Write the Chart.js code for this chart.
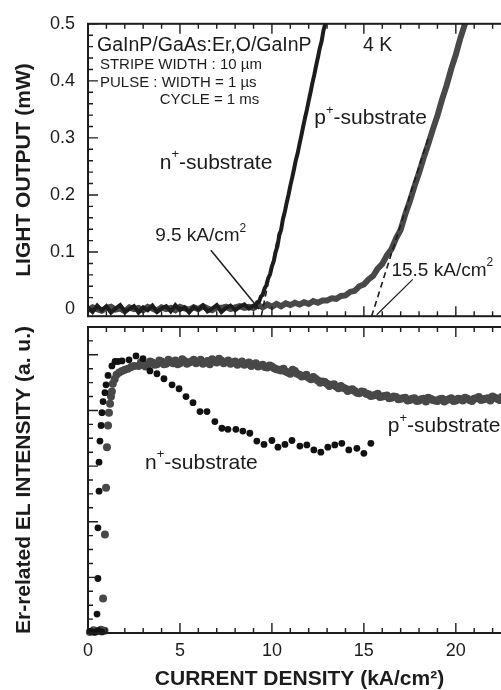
<!DOCTYPE html>
<html>
<head>
<meta charset="utf-8">
<title>Er-doped GaAs laser: light output and Er EL</title>
<script src="https://cdn.jsdelivr.net/npm/chart.js@4.4.1/dist/chart.umd.min.js"></script>
<style>
    html, body { margin: 0; padding: 0; background: #fff; overflow: hidden; }
    #wrap { position: relative; width: 501px; height: 690px; overflow: hidden; }
    canvas { position: absolute; left: 0; }
    #lightChart { top: 0; }
    #elChart { top: 300px; }
</style>
</head>
<body>
<div id="wrap">
    <canvas id="lightChart" width="530" height="340"></canvas>
    <canvas id="elChart" width="530" height="400"></canvas>
</div>
<script>
// ---- data: current density (kA/cm2) vs light output (mW), 4 K ----
const jN = [0,0.25,0.5,0.75,1,1.25,1.5,1.75,2,2.25,2.5,2.75,3,3.25,3.5,3.75,4,4.25,4.5,4.75,5,5.25,5.5,5.75,6,6.25,6.5,6.75,7,7.25,7.5,7.75,8,8.25,8.5,8.75,9,
    9.1,9.2,9.3,9.4,9.5,9.6,9.7,9.8,9.9,10,10.1,10.2,10.3,10.4,10.5,10.6,10.7,10.8,10.9,11,11.1,11.2,11.3,11.4,11.5,11.6,11.7,11.8,11.9,12,12.1,12.2,12.3,12.4,12.5,12.6,12.7,12.8,12.9,13];
const lightN = [0.003,-0.005,0.006,-0.002,0.005,-0.006,0.001,0.007,-0.004,0.000,0.005,-0.006,0.003,-0.002,0.006,-0.005,0.001,0.005,-0.004,0.007,-0.002,0.003,-0.006,0.004,-0.001,0.006,-0.004,0.001,0.007,-0.005,0.002,0.006,-0.002,0.004,0.008,0.001,0.006,
    0.004,0.012,0.013,0.022,0.025,0.036,0.042,0.054,0.061,0.075,0.084,0.100,0.110,0.129,0.139,0.158,0.170,0.186,0.200,0.216,0.230,0.245,0.261,0.273,0.289,0.304,0.320,0.335,0.349,0.365,0.380,0.396,0.410,0.426,0.441,0.457,0.469,0.488,0.500,0.517];

const jP = [0,0.25,0.5,0.75,1,1.25,1.5,1.75,2,2.25,2.5,2.75,3,3.25,3.5,3.75,4,4.25,4.5,4.75,5,5.25,5.5,5.75,6,6.25,6.5,6.75,7,7.25,7.5,7.75,8,8.25,8.5,8.75,
    9,9.25,9.5,9.75,10,10.25,10.5,10.75,11,11.25,11.5,11.75,12,12.25,12.5,12.75,13,13.25,13.5,13.75,
    14,14.25,14.5,14.75,15,15.25,15.5,15.75,16,16.25,16.5,16.75,17,17.25,17.5,17.75,18,18.25,18.5,18.75,19,19.25,19.5,19.75,20,20.25,20.5,20.75];
const lightP = [-0.002,0.003,0.000,-0.003,0.002,0.004,-0.001,0.001,-0.004,0.003,0.000,0.002,-0.002,0.004,0.001,-0.003,0.003,0.000,0.002,-0.002,0.004,0.001,-0.001,0.003,0.000,0.005,0.001,-0.002,0.003,0.002,0.004,0.000,0.003,0.005,0.002,0.004,
    0.002,0.007,0.003,0.008,0.004,0.009,0.005,0.010,0.007,0.011,0.008,0.012,0.009,0.014,0.011,0.015,0.015,0.019,0.018,0.023,
    0.024,0.030,0.032,0.040,0.043,0.052,0.058,0.071,0.079,0.094,0.105,0.124,0.139,0.166,0.189,0.215,0.239,0.265,0.289,0.315,0.339,0.367,0.392,0.421,0.446,0.475,0.500,0.527];

// threshold extrapolations and label pointers
const dashNx = [9.42, 10.4],   dashNy = [-0.0125, 0.139];
const dashPx = [15.42, 18.5],  dashPy = [-0.0125, 0.30];
const ptrNx = [6.68, 9.3],     ptrNy = [0.103, 0.0];
const ptrPx = [17.66, 15.7],   ptrPy = [0.052, -0.010];

// ---- data: Er-related EL intensity (a.u.) ----
const jElN = [0.15,0.35,0.55,0.75,0.49,0.54,0.54,0.6,0.6,0.65,0.71,0.76,0.82,0.92,0.98,1.09,1.3,1.47,1.63,1.85,2.23,2.61,2.99,3.37,3.75,4.13,4.57,4.95,5.33,5.71,
    6.09,6.47,6.9,7.28,7.61,8.04,8.42,8.8,9.18,9.57,10.0,10.33,10.71,11.09,11.52,11.9,12.28,12.66,13.04,13.42,13.8,14.18,14.62,15.0,15.38];
const elN = [0.03,0.01,0.04,0.02,0.34,0.98,1.89,2.55,3.07,3.45,3.73,3.96,4.16,4.32,4.46,4.63,4.8,4.88,4.88,4.89,4.91,4.98,4.93,4.71,4.66,4.57,4.46,4.39,4.25,4.14,
    3.98,3.98,3.8,3.68,3.66,3.66,3.63,3.59,3.45,3.39,3.46,3.34,3.39,3.46,3.36,3.38,3.29,3.25,3.34,3.38,3.41,3.29,3.32,3.23,3.41];

const jElP = [0.1,0.3,0.5,0.7,0.9,0.82,0.92,0.98,1.03,1.09,1.14,1.2,1.25,1.3,1.35,1.45,1.55,1.7,1.85,2.0,2.17,2.35,2.5,
    2.75,3,3.25,3.5,3.75,4,4.25,4.5,4.75,5,5.25,5.5,5.75,6,6.25,6.5,6.75,7,7.25,7.5,7.75,8,8.25,8.5,8.75,9,9.25,9.5,9.75,10,
    10.25,10.5,10.75,11,11.25,11.5,11.75,12,12.25,12.5,12.75,13,13.25,13.5,13.75,14,14.25,14.5,14.75,15,15.25,15.5,15.75,16,
    16.25,16.5,16.75,17,17.25,17.5,17.75,18,18.25,18.5,18.75,19,19.25,19.5,19.75,20,20.25,20.5,20.75,21,21.25,21.5,21.75,22,22.25,22.5,22.75,
    2.875,3.125,3.375,3.625,3.875,4.125,4.375,4.625,4.875,5.125,5.375,5.625,5.875,6.125,6.375,6.625,6.875,7.125,7.375,7.625,7.875,8.125,8.375,8.625,8.875,
    9.125,9.375,9.625,9.875,10.125,10.375,10.625,10.875,11.125,11.375,11.625,11.875,12.125,12.375,12.625,12.875,13.125,13.375,13.625,13.875,
    14.125,14.375,14.625,14.875,15.125,15.375,15.625,15.875,16.125,16.375,16.625,16.875,17.125,17.375,17.625,17.875,18.125,18.375,18.625,18.875,
    19.125,19.375,19.625,19.875,20.125,20.375,20.625,20.875,21.125,21.375,21.625,21.875,22.125,22.375,22.625];
const elP = [0.02,0.05,0.03,0.06,0.04,0.62,1.77,2.61,3.34,3.73,3.96,4.12,4.25,4.34,4.48,4.56,4.64,4.68,4.71,4.73,4.75,4.78,4.80,
    4.80,4.84,4.81,4.86,4.83,4.88,4.84,4.87,4.90,4.85,4.89,4.86,4.91,4.87,4.84,4.89,4.92,4.86,4.90,4.87,4.84,4.88,4.85,4.82,4.86,4.83,4.79,4.82,4.77,4.79,
    4.74,4.72,4.70,4.66,4.71,4.64,4.62,4.59,4.60,4.54,4.52,4.48,4.46,4.43,4.44,4.39,4.37,4.35,4.31,4.33,4.29,4.27,4.30,4.25,
    4.27,4.23,4.24,4.21,4.23,4.19,4.22,4.18,4.21,4.23,4.19,4.17,4.21,4.19,4.22,4.18,4.20,4.23,4.19,4.21,4.24,4.20,4.22,4.25,4.21,4.24,4.22,
    4.86,4.79,4.88,4.82,4.90,4.83,4.91,4.85,4.83,4.92,4.84,4.88,4.85,4.91,4.86,4.83,4.89,4.93,4.85,4.90,4.86,4.82,4.88,4.84,4.80,
    4.85,4.81,4.78,4.81,4.76,4.73,4.75,4.68,4.73,4.66,4.61,4.64,4.56,4.57,4.50,4.51,4.44,4.47,4.40,4.41,
    4.35,4.38,4.32,4.34,4.30,4.26,4.28,4.24,4.26,4.22,4.25,4.20,4.22,4.18,4.21,4.17,4.20,4.16,4.21,4.18,
    4.20,4.16,4.20,4.17,4.21,4.18,4.21,4.17,4.22,4.19,4.21,4.18,4.23,4.19,4.22];

// axis ticks
const xTickLabels = [0, 5, 10, 15, 20];
const lightTicks = [0, 0.1, 0.2, 0.3, 0.4, 0.5];

const FONT = 'Arial, "Liberation Sans", sans-serif';
const INK = '#1c1c1c';
const GREY = '#484848';

const pts = (xs, ys) => xs.map((x, i) => ({ x: x, y: ys[i] }));

// box frame with inward ticks on all four sides
const framePlugin = {
    id: 'frame',
    afterDatasetsDraw(chart, args, opts) {
        const { ctx, chartArea: a, scales: { x, y } } = chart;
        ctx.save();
        ctx.strokeStyle = INK;
        ctx.lineWidth = 1.4;
        ctx.beginPath();
        for (let v = 0; v <= x.max; v++) {
            const px = x.getPixelForValue(v);
            const len = v % 5 === 0 ? 10 : 5;
            ctx.moveTo(px, a.top); ctx.lineTo(px, a.top + len);
            ctx.moveTo(px, a.bottom); ctx.lineTo(px, a.bottom - len);
        }
        for (let i = 0; i <= opts.count; i++) {
            const py = y.getPixelForValue(i * opts.step);
            const len = i % opts.perMajor === 0 ? 10 : 5;
            ctx.moveTo(a.left, py); ctx.lineTo(a.left + len, py);
            ctx.moveTo(a.right, py); ctx.lineTo(a.right - len, py);
        }
        ctx.stroke();
        ctx.lineWidth = 2;
        ctx.strokeRect(a.left, a.top, a.width, a.height);
        ctx.restore();
    }
};

// text notes placed in data coordinates; '^' marks a superscript part
const notePlugin = {
    id: 'notes',
    afterDraw(chart, args, opts) {
        const { ctx, scales: { x, y } } = chart;
        ctx.save();
        ctx.fillStyle = INK;
        ctx.textBaseline = 'middle';
        ctx.textAlign = 'left';
        opts.items.forEach(n => {
            let cx = x.getPixelForValue(n.x);
            const cy = y.getPixelForValue(n.y);
            n.parts.forEach(p => {
                const sup = p.startsWith('^');
                const t = sup ? p.slice(1) : p;
                ctx.font = (sup ? Math.round(n.size * 0.62) : n.size) + 'px ' + FONT;
                ctx.fillText(t, cx, sup ? cy - n.size * 0.4 : cy);
                cx += ctx.measureText(t).width;
            });
        });
        ctx.restore();
    }
};

Chart.defaults.font.family = FONT;
Chart.defaults.color = INK;

new Chart(document.getElementById('lightChart'), {
    type: 'scatter',
    data: {
        datasets: [
            { data: pts(jN, lightN), showLine: true, borderColor: INK, borderWidth: 4, pointRadius: 0 },
            { data: pts(dashNx, dashNy), showLine: true, borderColor: INK, borderWidth: 1.6, borderDash: [6, 4], pointRadius: 0 },
            { data: pts(dashPx, dashPy), showLine: true, borderColor: INK, borderWidth: 1.6, borderDash: [6, 4], pointRadius: 0 },
            { data: pts(ptrNx, ptrNy), showLine: true, borderColor: INK, borderWidth: 1.5, pointRadius: 0 },
            { data: pts(ptrPx, ptrPy), showLine: true, borderColor: INK, borderWidth: 1.2, pointRadius: 0 },
            { data: pts(jP, lightP), showLine: true, borderColor: GREY, borderWidth: 6, pointRadius: 0 }
        ]
    },
    options: {
        responsive: false,
        animation: false,
        layout: { padding: { top: 19, right: 19, bottom: 13, left: 0 } },
        plugins: {
            legend: { display: false },
            tooltip: { enabled: false },
            frame: { step: 0.02, perMajor: 5, count: 25 },
            notes: {
                items: [
                    { x: 0.49, y: 0.461, size: 19.5, parts: ['GaInP/GaAs:Er,O/GaInP'] },
                    { x: 0.65, y: 0.428, size: 15, parts: ['STRIPE WIDTH : 10 \u00b5m'] },
                    { x: 0.65, y: 0.396, size: 15, parts: ['PULSE : WIDTH = 1 \u00b5s'] },
                    { x: 3.9, y: 0.366, size: 15, parts: ['CYCLE = 1 ms'] },
                    { x: 14.95, y: 0.461, size: 19.5, parts: ['4 K'] },
                    { x: 12.3, y: 0.334, size: 21, parts: ['p', '^+', '-substrate'] },
                    { x: 3.9, y: 0.256, size: 21, parts: ['n', '^+', '-substrate'] },
                    { x: 3.65, y: 0.128, size: 19, parts: ['9.5 kA/cm', '^2'] },
                    { x: 16.5, y: 0.068, size: 19, parts: ['15.5 kA/cm', '^2'] }
                ]
            }
        },
        scales: {
            x: { type: 'linear', min: 0, max: 23, display: false },
            y: {
                min: -0.0125, max: 0.5,
                afterFit: s => { s.width = 88; },
                afterBuildTicks: s => { s.ticks = lightTicks.map(v => ({ value: v })); },
                grid: { display: false, drawTicks: false },
                border: { display: false },
                ticks: { padding: 13, font: { size: 18 }, color: INK, callback: v => v === 0 ? '0' : v.toFixed(1) },
                title: { display: true, text: 'LIGHT OUTPUT (mW)', font: { size: 21, weight: 'bold' }, color: INK, padding: { top: 12, bottom: 0 } }
            }
        }
    },
    plugins: [framePlugin, notePlugin]
});

new Chart(document.getElementById('elChart'), {
    type: 'scatter',
    data: {
        datasets: [
            { data: pts(jElN, elN), backgroundColor: '#111', borderWidth: 0, pointRadius: 3.4, clip: 8 },
            { data: pts(jElP, elP), backgroundColor: GREY, borderWidth: 0, pointRadius: 4, clip: 8 }
        ]
    },
    options: {
        responsive: false,
        animation: false,
        layout: { padding: { top: 27, right: 19, bottom: 0, left: 0 } },
        plugins: {
            legend: { display: false },
            tooltip: { enabled: false },
            frame: { step: 0.25, perMajor: 4, count: 22 },
            notes: {
                items: [
                    { x: 16.3, y: 3.71, size: 21, parts: ['p', '^+', '-substrate'] },
                    { x: 3.1, y: 3.05, size: 21, parts: ['n', '^+', '-substrate'] }
                ]
            }
        },
        scales: {
            x: {
                type: 'linear', min: 0, max: 23,
                afterFit: s => { s.height = 67; },
                afterBuildTicks: s => { s.ticks = xTickLabels.map(v => ({ value: v })); },
                grid: { display: false, drawTicks: false },
                border: { display: false },
                ticks: { padding: 7, font: { size: 18 }, color: INK, maxRotation: 0 },
                title: { display: true, text: 'CURRENT DENSITY (kA/cm\u00b2)', font: { size: 21, weight: 'bold' }, color: INK, padding: { top: 0, bottom: 8 } }
            },
            y: {
                min: 0, max: 5.5,
                afterFit: s => { s.width = 88; },
                grid: { display: false, drawTicks: false },
                border: { display: false },
                ticks: { display: false },
                title: { display: true, text: 'Er-related EL INTENSITY (a. u.)', font: { size: 21, weight: 'bold' }, color: INK, padding: { top: 12, bottom: 0 } }
            }
        }
    },
    plugins: [framePlugin, notePlugin]
});
</script>
</body>
</html>
